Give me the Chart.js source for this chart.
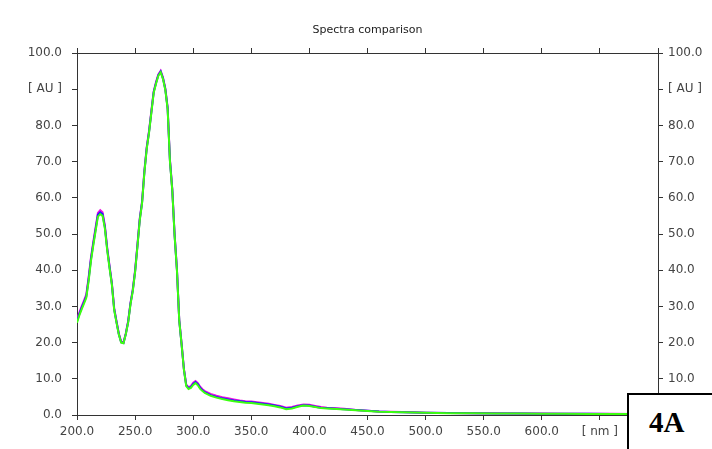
<!DOCTYPE html>
<html>
<head>
<meta charset="utf-8">
<title>Spectra comparison</title>
<script src="https://cdn.jsdelivr.net/npm/chart.js@4.4.1/dist/chart.umd.min.js"></script>
<style>
  body { margin: 0; background: #fff; }
  #wrap { position: relative; width: 712px; height: 449px; overflow: hidden; }
  #tag {
    position: absolute; left: 627px; top: 393px; width: 100px; height: 80px;
    border: 2px solid #000; background: #fff;
    font: bold 29px "Liberation Serif", "DejaVu Serif", serif; color: #000;
    padding: 11px 0 0 20px; box-sizing: border-box;
  }
</style>
</head>
<body>
<div id="wrap">
  <canvas id="spectra" width="712" height="449"></canvas>
  <div id="tag">4A</div>
</div>
<script>
// wavelength grid (nm)
const wavelengths = [
  200, 202, 204, 206, 208, 210, 212, 214, 216, 218, 220, 222, 224, 226, 228, 230,
  232, 234, 236, 238, 240, 242, 244, 246, 248, 250, 252, 254, 256, 258, 260, 262,
  264, 266, 268, 270, 272, 274, 276, 278, 280, 282, 284, 286, 288, 290, 292, 294,
  296, 298, 300, 302, 304, 306, 308, 310,
  315, 320, 325, 330, 335, 340, 345, 350, 355, 360, 365, 370, 375, 380, 385, 390,
  395, 400, 405, 410, 415, 420,
  430, 440, 450, 460, 470, 480, 490, 500,
  520, 540, 560, 580, 600, 620, 640, 660, 680, 700
];

// absorbance [AU] of the three overlaid spectra
const spectrumGreen = [
  25.5, 27.5, 29.2, 30.8, 32.4, 37.0, 42.5, 46.8, 50.8, 54.8, 55.5, 55.0, 51.5, 45.5, 40.6, 36.0,
  29.0, 25.5, 22.2, 20.0, 19.8, 22.3, 25.5, 30.5, 34.2, 39.5, 46.5, 53.8, 58.5, 67.0, 73.5, 78.0,
  83.5, 89.0, 91.5, 93.7, 94.7, 92.8, 89.8, 84.5, 70.0, 62.0, 49.5, 40.0, 26.0, 19.5, 12.5, 8.0,
  7.2, 7.5, 8.3, 8.8, 8.2, 7.2, 6.6, 6.1,
  5.3, 4.8, 4.4, 4.1, 3.8, 3.6, 3.4, 3.3, 3.1, 2.9, 2.7, 2.4, 2.1, 1.6, 1.8, 2.3,
  2.6, 2.5, 2.2, 1.9, 1.8, 1.7,
  1.5, 1.3, 1.1, 0.9, 0.8, 0.75, 0.7, 0.6,
  0.5, 0.45, 0.4, 0.38, 0.35, 0.32, 0.3, 0.28, 0.26, 0.25
];
const spectrumBlue = [
  25.9, 27.9, 29.6, 31.2, 32.8, 37.5, 43.0, 47.3, 51.3, 55.3, 56.0, 55.5, 51.9, 45.8, 40.9, 36.2,
  29.2, 25.7, 22.3, 20.1, 19.9, 22.4, 25.7, 30.7, 34.4, 39.7, 46.7, 54.0, 58.7, 67.2, 73.7, 78.2,
  83.7, 89.2, 91.7, 93.9, 94.9, 93.0, 90.0, 84.7, 70.2, 62.2, 49.7, 40.1, 26.1, 19.6, 12.6, 8.2,
  7.4, 7.7, 8.6, 9.1, 8.5, 7.5, 6.8, 6.3,
  5.5, 5.0, 4.6, 4.3, 4.0, 3.8, 3.6, 3.5, 3.3, 3.1, 2.9, 2.6, 2.3, 1.8, 2.0, 2.4,
  2.7, 2.6, 2.3, 2.0, 1.9, 1.8,
  1.6, 1.35, 1.15, 0.95, 0.85, 0.78, 0.72, 0.62,
  0.52, 0.47, 0.42, 0.4, 0.37, 0.34, 0.32, 0.3, 0.28, 0.26
];
const spectrumMagenta = [
  26.3, 28.3, 30.0, 31.6, 33.3, 38.0, 43.5, 47.8, 51.8, 55.8, 56.6, 56.0, 52.3, 46.2, 41.2, 36.5,
  29.5, 25.9, 22.5, 20.3, 20.0, 22.6, 25.9, 30.9, 34.7, 40.0, 47.0, 54.3, 59.0, 67.5, 74.0, 78.5,
  84.0, 89.4, 92.0, 94.1, 95.1, 93.2, 90.2, 85.0, 70.5, 62.4, 49.9, 40.3, 26.3, 19.8, 12.8, 8.4,
  7.7, 8.0, 8.9, 9.4, 8.8, 7.8, 7.1, 6.6,
  5.8, 5.3, 4.9, 4.6, 4.3, 4.0, 3.8, 3.7, 3.5, 3.3, 3.1, 2.8, 2.5, 2.0, 2.2, 2.6,
  2.9, 2.8, 2.5, 2.2, 2.0, 1.9,
  1.7, 1.4, 1.2, 1.0, 0.9, 0.8, 0.75, 0.65,
  0.55, 0.5, 0.45, 0.42, 0.4, 0.36, 0.34, 0.32, 0.3, 0.28
];

const chartTitle = 'Spectra comparison';
const xUnit = '[ nm ]';
const yUnit = '[ AU ]';

const axisColor = '#333';
const labelFont = { family: 'DejaVu Sans', size: 12 };

function points(values) {
  return wavelengths.map((w, i) => ({ x: w, y: values[i] }));
}

function xLabel(v) {
  return v === 650 ? xUnit : v.toFixed(1);
}
function yLabel(v) {
  return v === 90 ? yUnit : v.toFixed(1);
}

// title centred over the plot area rather than the whole canvas
const titlePlugin = {
  id: 'plotTitle',
  afterDraw(chart) {
    const { ctx, chartArea } = chart;
    ctx.save();
    ctx.font = '11px "DejaVu Sans"';
    ctx.fillStyle = '#222';
    ctx.textAlign = 'center';
    ctx.textBaseline = 'middle';
    ctx.fillText(chartTitle, (chartArea.left + chartArea.right) / 2, 30);
    ctx.restore();
  }
};

function axisGrid() {
  return { drawOnChartArea: false, drawTicks: true, tickLength: 5, color: axisColor, lineWidth: 1 };
}

const ctx = document.getElementById('spectra').getContext('2d');
new Chart(ctx, {
  type: 'line',
  data: {
    datasets: [
      {
        label: 'green',
        data: points(spectrumGreen),
        borderColor: '#3cff10',
        borderWidth: 2,
        pointRadius: 0,
        tension: 0,
        xAxisID: 'x',
        yAxisID: 'y'
      },
      {
        label: 'blue',
        data: points(spectrumBlue),
        borderColor: '#1a1aff',
        borderWidth: 2,
        pointRadius: 0,
        tension: 0,
        xAxisID: 'x',
        yAxisID: 'y'
      },
      {
        label: 'magenta',
        data: points(spectrumMagenta),
        borderColor: '#f010e0',
        borderWidth: 2,
        pointRadius: 0,
        tension: 0,
        xAxisID: 'x',
        yAxisID: 'y'
      }
    ]
  },
  options: {
    responsive: false,
    animation: false,
    devicePixelRatio: 1,
    layout: { padding: 0 },
    plugins: {
      legend: { display: false },
      tooltip: { enabled: false }
    },
    scales: {
      x: {
        type: 'linear',
        position: 'bottom',
        min: 200,
        max: 700,
        grid: axisGrid(),
        border: { color: axisColor, width: 1 },
        ticks: {
          stepSize: 50, autoSkip: false, maxRotation: 0, padding: 5,
          color: '#444', font: labelFont, callback: xLabel
        },
        afterFit(s) { s.height = 34; }
      },
      xTop: {
        type: 'linear',
        position: 'top',
        min: 200,
        max: 700,
        grid: axisGrid(),
        border: { color: axisColor, width: 1 },
        ticks: { stepSize: 50, autoSkip: false, display: false },
        afterFit(s) { s.height = 53; }
      },
      y: {
        position: 'left',
        min: 0,
        max: 100,
        grid: axisGrid(),
        border: { color: axisColor, width: 1 },
        ticks: { stepSize: 10, padding: 10, color: '#444', font: labelFont, callback: yLabel },
        afterFit(s) { s.width = 77; }
      },
      yRight: {
        position: 'right',
        min: 0,
        max: 100,
        grid: axisGrid(),
        border: { color: axisColor, width: 1 },
        ticks: { stepSize: 10, padding: 5, color: '#444', font: labelFont, callback: yLabel },
        afterFit(s) { s.width = 54; }
      }
    }
  },
  plugins: [titlePlugin]
});
</script>
</body>
</html>
